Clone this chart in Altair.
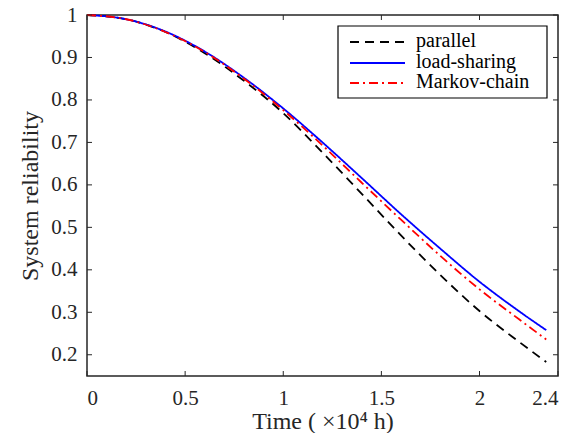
import altair as alt
import pandas as pd

# Values
time = [0, 0.2, 0.4, 0.6, 0.8, 1.0, 1.2, 1.4, 1.6, 1.8, 2.0, 2.2, 2.34]
parallel = [1.000, 0.990, 0.960, 0.910, 0.845, 0.769, 0.676, 0.579, 0.481, 0.388, 0.303, 0.231, 0.183]
load_sharing = [1.000, 0.990, 0.961, 0.914, 0.852, 0.780, 0.700, 0.616, 0.531, 0.450, 0.372, 0.303, 0.258]
markov_chain = [1.000, 0.990, 0.960, 0.913, 0.850, 0.776, 0.693, 0.605, 0.518, 0.433, 0.354, 0.284, 0.236]

series_names = ["parallel", "load-sharing", "Markov-chain"]
series_colors = ["#000000", "#0000ff", "#ff0000"]
series_dashes = [[9, 6], [1, 0], [9, 4, 2, 4]]

x_ticks = [0, 0.5, 1, 1.5, 2, 2.4]
y_ticks = [0.2, 0.3, 0.4, 0.5, 0.6, 0.7, 0.8, 0.9, 1.0]

W, H = 471, 361
FONT = "'Liberation Serif', 'Times New Roman', serif"
AX = "#262626"

rows = []
for name, vals in zip(series_names, [parallel, load_sharing, markov_chain]):
    for t, v in zip(time, vals):
        rows.append({"t": t, "r": v, "series": name})
df = pd.DataFrame(rows)
xt = pd.DataFrame({"v": x_ticks})
yt = pd.DataFrame({"v": y_ticks})

xscale = alt.Scale(domain=[0, 2.4], nice=False, zero=False)
yscale = alt.Scale(domain=[0.15, 1], nice=False, zero=False)

lines = alt.Chart(df).mark_line(strokeWidth=1.8, interpolate="monotone").encode(
    x=alt.X("t:Q", scale=xscale,
            axis=alt.Axis(title="Time ( ×10⁴ h)", values=x_ticks, ticks=False, domain=False,
                          grid=False, labelPadding=11, titlePadding=1,
                          labelExpr="format(datum.value, '')")),
    y=alt.Y("r:Q", scale=yscale,
            axis=alt.Axis(title="System reliability", values=y_ticks, ticks=False, domain=False,
                          grid=False, labelPadding=10, titlePadding=8,
                          labelExpr="format(datum.value, '')")),
    color=alt.Color("series:N", scale=alt.Scale(domain=series_names, range=series_colors), legend=None),
    strokeDash=alt.StrokeDash("series:N", scale=alt.Scale(domain=series_names, range=series_dashes), legend=None),
)

tk = 5
xb = alt.Chart(xt).mark_rule(color=AX, strokeWidth=1).encode(
    x=alt.X("v:Q", scale=xscale), y=alt.value(H), y2=alt.value(H - tk))
xtp = alt.Chart(xt).mark_rule(color=AX, strokeWidth=1).encode(
    x=alt.X("v:Q", scale=xscale), y=alt.value(0), y2=alt.value(tk))
yl = alt.Chart(yt).mark_rule(color=AX, strokeWidth=1).encode(
    y=alt.Y("v:Q", scale=yscale), x=alt.value(0), x2=alt.value(tk))
yr = alt.Chart(yt).mark_rule(color=AX, strokeWidth=1).encode(
    y=alt.Y("v:Q", scale=yscale), x=alt.value(W), x2=alt.value(W - tk))

# legend box and entries
box = alt.Chart(pd.DataFrame({"k": [0]})).mark_rect(
    fill="#ffffff", stroke="#000000", strokeWidth=1.2).encode(
    x=alt.value(251), x2=alt.value(460), y=alt.value(11), y2=alt.value(83))
legend_layers = [box]
row_y = [27, 48, 68]
for name, col, dash, yy in zip(series_names, series_colors, series_dashes, row_y):
    one = pd.DataFrame({"name": [name]})
    legend_layers.append(alt.Chart(one).mark_rule(color=col, strokeDash=dash, strokeWidth=1.8).encode(
        x=alt.value(263), x2=alt.value(318), y=alt.value(yy)))
    legend_layers.append(alt.Chart(one).mark_text(
        font=FONT, fontSize=20, color="#000000", align="left", baseline="middle", dy=-1).encode(
        x=alt.value(329), y=alt.value(yy), text="name:N"))

chart = alt.layer(lines, xb, xtp, yl, yr, *legend_layers).properties(
    width=W, height=H,
    autosize=alt.AutoSizeParams(type="none"),
    padding={"left": 79, "top": 7, "right": 18, "bottom": 57},
    background="#ffffff",
).configure_view(
    stroke=AX, strokeWidth=1.5
).configure_axis(
    labelFont=FONT, labelFontSize=21, labelColor="#262626",
    titleFont=FONT, titleFontSize=24, titleColor="#262626", titleFontWeight="normal"
)

chart.save("out.html", embed_options={"renderer": "svg", "actions": False})
